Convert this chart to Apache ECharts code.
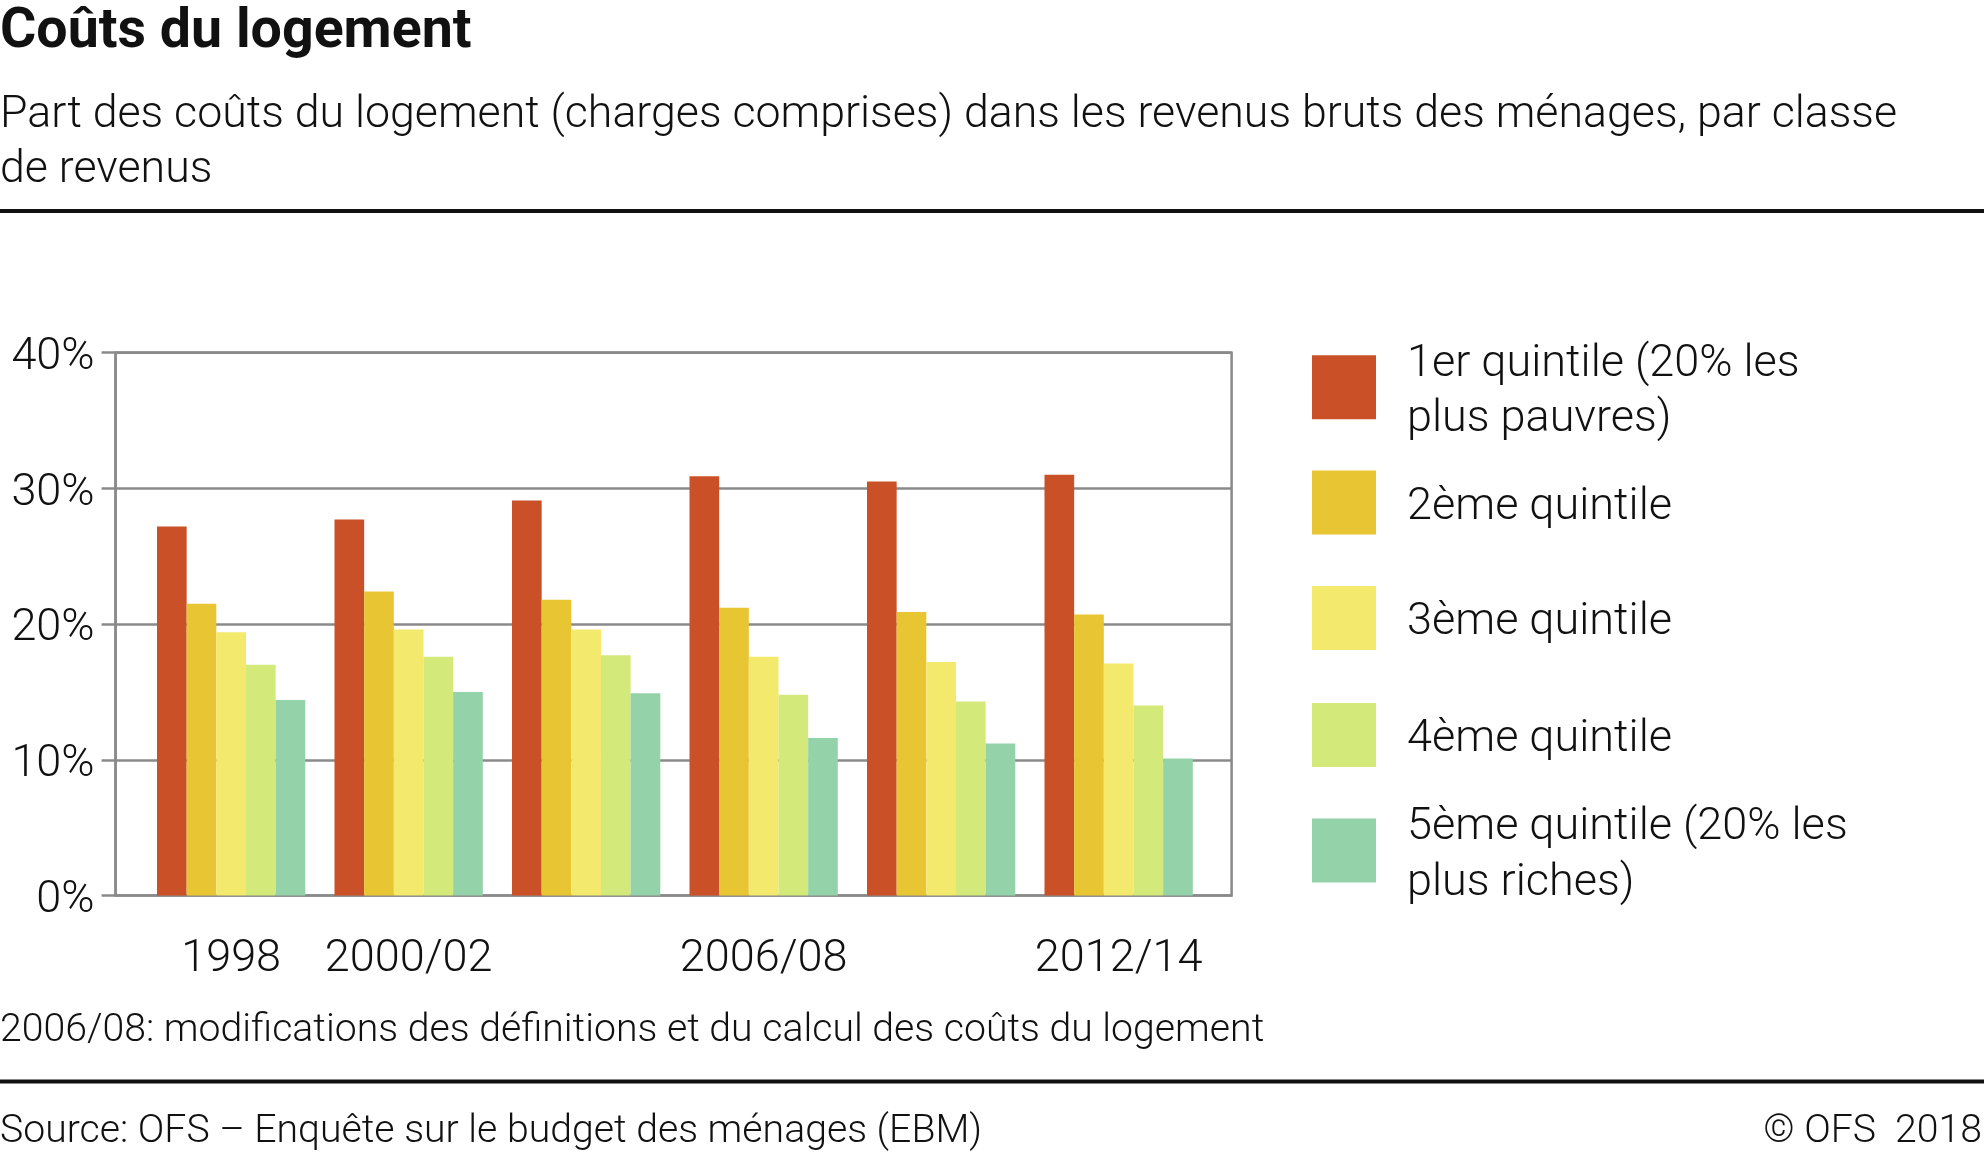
<!DOCTYPE html>
<html>
<head>
<meta charset="utf-8">
<script src="https://cdn.jsdelivr.net/npm/echarts@6/dist/echarts.min.js"></script>
<style>
html,body{margin:0;padding:0;background:#fff;}
#chart{width:1984px;height:1161px;}
</style>
</head>
<body>
<div id="chart"></div>
<script>
// ---- data ----
const categories = ['1998', '2000/02', '2003/05', '2006/08', '2009/11', '2012/14'];
const shownLabels = ['1998', '2000/02', '', '2006/08', '', '2012/14'];
const seriesNames = [
  '1er quintile (20% les\nplus pauvres)',
  '2ème quintile',
  '3ème quintile',
  '4ème quintile',
  '5ème quintile (20% les\nplus riches)'
];
const q1 = [27.2, 27.7, 29.1, 30.9, 30.5, 31.0];
const q2 = [21.5, 22.4, 21.8, 21.2, 20.9, 20.7];
const q3 = [19.4, 19.6, 19.6, 17.6, 17.2, 17.1];
const q4 = [17.0, 17.6, 17.7, 14.8, 14.3, 14.0];
const q5 = [14.4, 15.0, 14.9, 11.6, 11.2, 10.1];
const yTicks = [0, 10, 20, 30, 40];
const colors = ['#CA5127', '#E8C533', '#F3E96C', '#D3EA7B', '#94D3A9'];

const values = [q1, q2, q3, q4, q5];
const FONT = 'Roboto, "Noto Sans", sans-serif';
const TXT = '#111111';
const GRID_GRAY = '#8a8a8a';

const chart = echarts.init(document.getElementById('chart'), null, {renderer: 'canvas'});

const legendTops = [331.8, 470.5, 586, 703, 795];
const legendRich = {
  a: {fontFamily: FONT, fontSize: 45, fontWeight: 300, color: TXT, lineHeight: 55.5, padding: [10, 0, 0, 26]}
};

const option = {
  backgroundColor: '#ffffff',
  animation: false,
  title: [
    {text: 'Coûts du logement', left: 0, top: 5, padding: 0,
     textStyle: {fontFamily: FONT, fontSize: 55.5, fontWeight: 'bold', color: TXT, lineHeight: 55.5}},
    {text: 'Part des coûts du logement (charges comprises) dans les revenus bruts des ménages, par classe\nde revenus',
     left: 0, top: 89, padding: 0,
     textStyle: {fontFamily: FONT, fontSize: 44.7, fontWeight: 300, color: TXT, lineHeight: 54.5}},
    {text: '2006/08: modifications des définitions et du calcul des coûts du logement', left: 0, top: 1011.5, padding: 0,
     textStyle: {fontFamily: FONT, fontSize: 39.2, fontWeight: 300, color: TXT, lineHeight: 39.2}},
    {text: 'Source: OFS – Enquête sur le budget des ménages (EBM)', left: 0, top: 1112.5, padding: 0,
     textStyle: {fontFamily: FONT, fontSize: 39.2, fontWeight: 300, color: TXT, lineHeight: 39.2}},
    {text: '© OFS  2018', right: 2, top: 1112.5, padding: 0,
     textStyle: {fontFamily: FONT, fontSize: 39.2, fontWeight: 300, color: TXT, lineHeight: 39.2}}
  ],
  graphic: [
    {type: 'rect', left: 0, top: 209, shape: {width: 1984, height: 4}, style: {fill: '#111'}},
    {type: 'rect', left: 0, top: 1079.5, shape: {width: 1984, height: 4}, style: {fill: '#111'}}
  ],
  legend: seriesNames.map((n, i) => ({
    data: [n],
    orient: 'vertical',
    left: 1312,
    top: legendTops[i],
    padding: 0,
    itemWidth: 64,
    itemHeight: 64,
    icon: 'rect',
    selectedMode: false,
    itemStyle: {borderWidth: 0},
    formatter: name => name.split('\n').map(l => '{a|' + l + '}').join('\n'),
    textStyle: {fontFamily: FONT, fontSize: 45, fontWeight: 300, color: TXT, lineHeight: 55.5, rich: legendRich}
  })),
  grid: [
    {left: 115.6, right: 752.4, top: 352.7, bottom: 265.5, show: true,
     borderColor: GRID_GRAY, borderWidth: 2.5, backgroundColor: 'transparent'},
    {left: 142.4, width: 1065, top: 352.7, bottom: 265.5}
  ],
  xAxis: [
    {gridIndex: 0, type: 'value', show: false, min: 0, max: 1},
    {gridIndex: 1, type: 'category', data: categories,
     axisLine: {show: false}, axisTick: {show: false},
     axisLabel: {interval: 0, margin: 42, fontFamily: FONT, fontSize: 45, fontWeight: 300, color: TXT,
                 lineHeight: 45, formatter: (v, idx) => shownLabels[idx]}}
  ],
  yAxis: [
    {gridIndex: 0, type: 'value', min: yTicks[0], max: yTicks[yTicks.length - 1], interval: 10,
     axisLine: {show: true, lineStyle: {color: GRID_GRAY, width: 2.5}},
     axisTick: {show: true, inside: false, length: 14, lineStyle: {color: GRID_GRAY, width: 2.5}},
     splitLine: {show: true, lineStyle: {color: GRID_GRAY, width: 2.5}},
     axisLabel: {margin: 21, fontFamily: FONT, fontSize: 45, fontWeight: 300, color: TXT,
                 verticalAlign: 'top', lineHeight: 10, formatter: v => v + '%'}},
    {gridIndex: 1, type: 'value', min: yTicks[0], max: yTicks[yTicks.length - 1], show: false,
     splitLine: {show: false}}
  ],
  series: values.map((arr, i) => ({
    name: seriesNames[i],
    type: 'bar',
    xAxisIndex: 1,
    yAxisIndex: 1,
    data: arr,
    barWidth: 29.66,
    barGap: '0%',
    itemStyle: {color: colors[i]},
    emphasis: {disabled: true}
  }))
};
chart.setOption(option);
</script>
</body>
</html>
